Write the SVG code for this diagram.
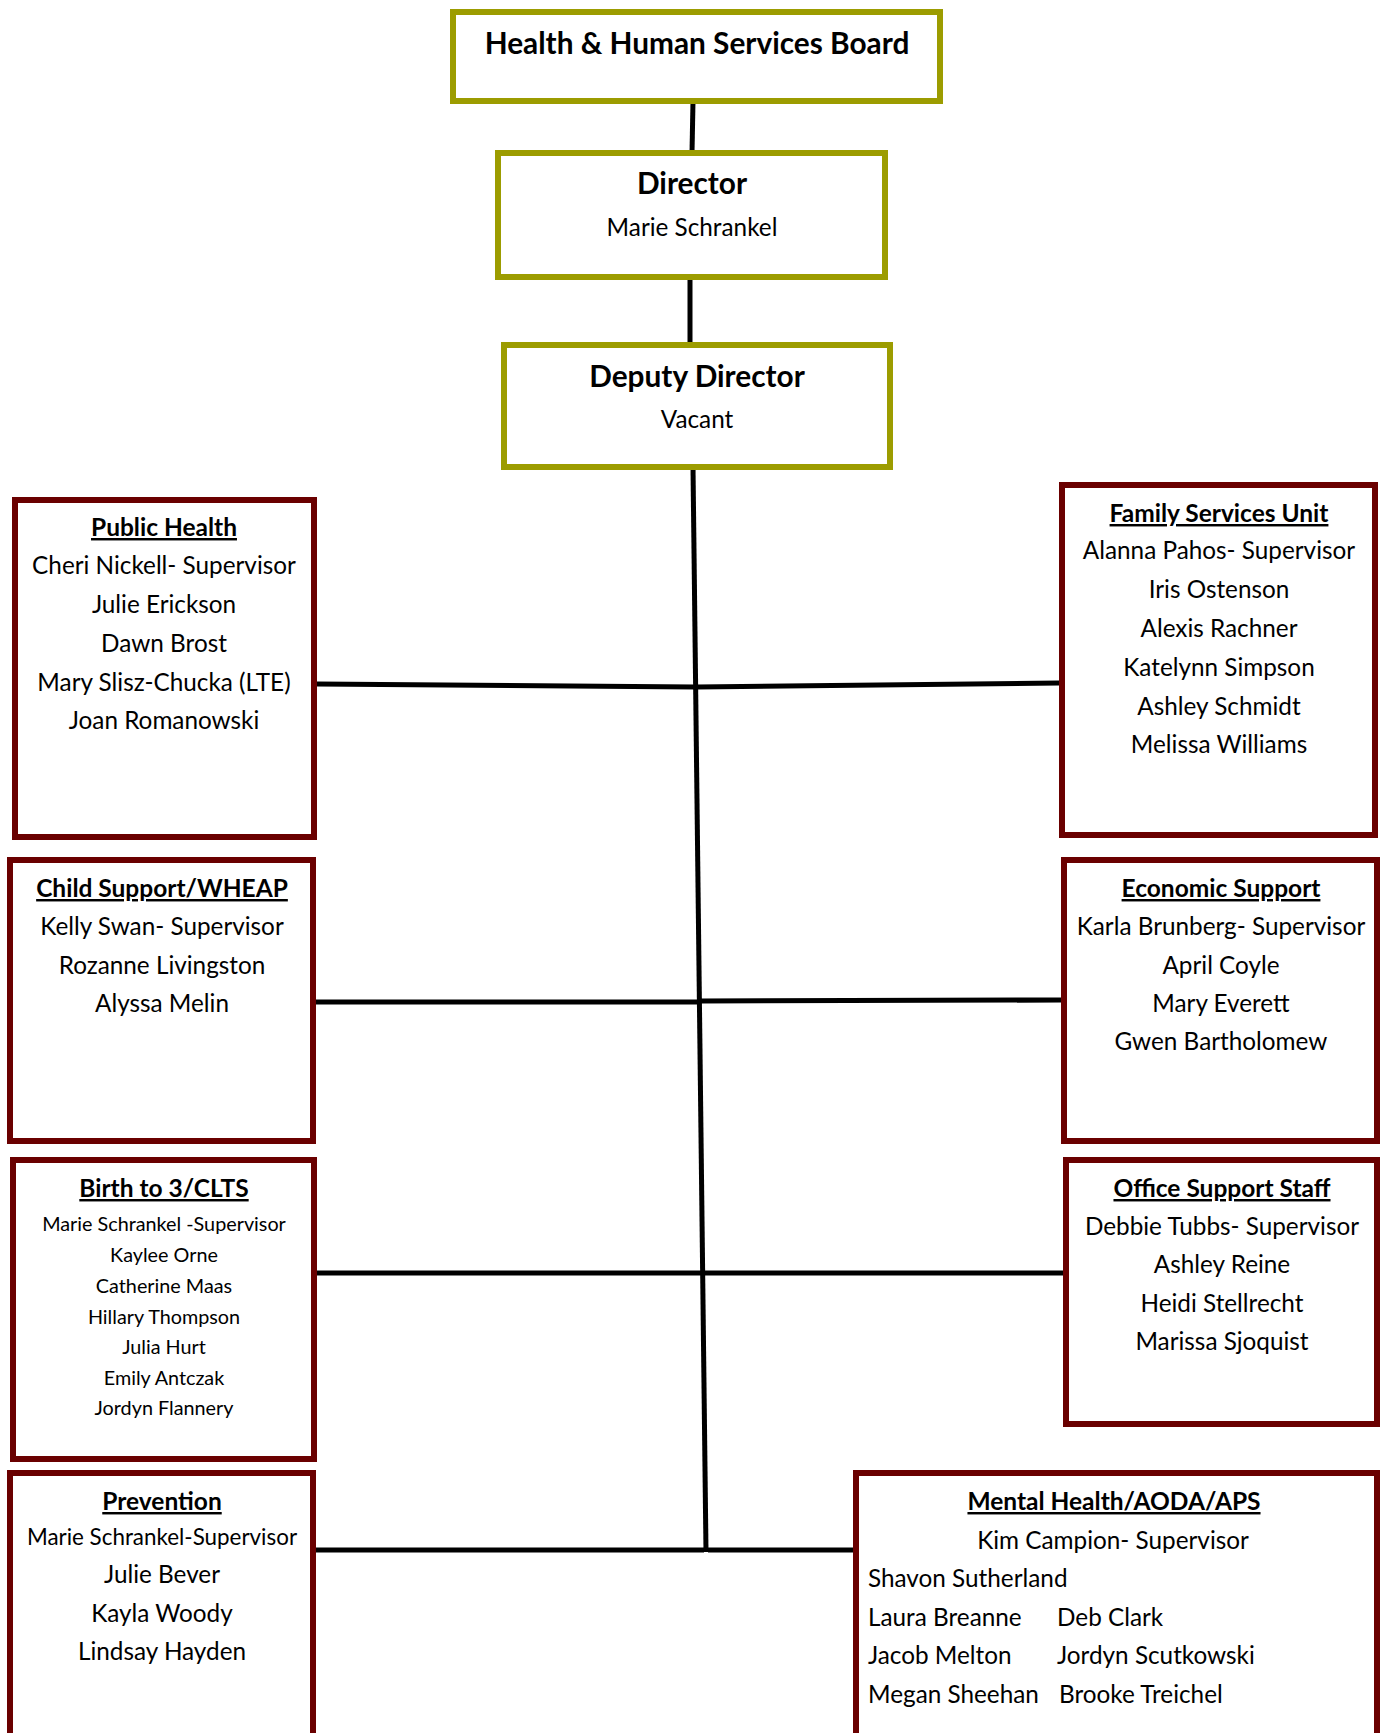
<svg xmlns="http://www.w3.org/2000/svg" width="1380" height="1733" viewBox="0 0 1380 1733">
<style>
text{font-family:Lato,"Open Sans","DejaVu Sans",sans-serif;fill:#000;text-anchor:middle}
.top{fill:#fff;stroke:#9c9c00;stroke-width:6}
.unit{fill:#fff;stroke:#6a0000;stroke-width:6}
.h1{font-size:29.8px;font-weight:bold}
.h2{font-size:24.5px;font-weight:bold;text-decoration:underline}
.b{font-size:24.3px}
.s{font-size:19.8px}
.l{text-anchor:start}
.c line{stroke:#000;stroke-width:5}
</style>
<rect width="1380" height="1733" fill="#fff"/>
<g class="c" id="connectors">
<line x1="693" y1="101" x2="692" y2="153"/>
<line x1="690" y1="277" x2="690" y2="345"/>
<line x1="693" y1="467" x2="706" y2="1552"/>
<line x1="317" y1="684" x2="695" y2="687"/>
<line x1="697" y1="687" x2="1059" y2="683"/>
<line x1="316" y1="1002" x2="699" y2="1002"/>
<line x1="701" y1="1001" x2="1061" y2="1000"/>
<line x1="317" y1="1273" x2="1063" y2="1273"/>
<line x1="316" y1="1550" x2="704" y2="1550"/>
<line x1="708" y1="1550" x2="853" y2="1550"/>
</g>
<g id="board"><rect class="top" x="453" y="12" width="487" height="89"/><text class="h1" x="697" y="54">Health &amp; Human Services Board</text></g>
<g id="director"><rect class="top" x="498" y="153" width="387" height="124"/><text class="h1" x="692" y="194">Director</text><text class="b" x="692" y="236">Marie Schrankel</text></g>
<g id="deputy"><rect class="top" x="504" y="345" width="386" height="122"/><text class="h1" x="697" y="387">Deputy Director</text><text class="b" x="697" y="428">Vacant</text></g>
<g id="public-health"><rect class="unit" x="15" y="500" width="299" height="337"/>
<text class="h2" x="164" y="536">Public Health</text>
<text class="b" x="164" y="574">Cheri Nickell- Supervisor</text>
<text class="b" x="164" y="613">Julie Erickson</text>
<text class="b" x="164" y="652">Dawn Brost</text>
<text class="b" x="164" y="691">Mary Slisz-Chucka (LTE)</text>
<text class="b" x="164" y="729">Joan Romanowski</text></g>
<g id="family-services"><rect class="unit" x="1062" y="485" width="313" height="350"/>
<text class="h2" x="1219" y="522">Family Services Unit</text>
<text class="b" x="1219" y="559">Alanna Pahos- Supervisor</text>
<text class="b" x="1219" y="598">Iris Ostenson</text>
<text class="b" x="1219" y="637">Alexis Rachner</text>
<text class="b" x="1219" y="676">Katelynn Simpson</text>
<text class="b" x="1219" y="715">Ashley Schmidt</text>
<text class="b" x="1219" y="753">Melissa Williams</text></g>
<g id="child-support"><rect class="unit" x="10" y="860" width="303" height="281"/>
<text class="h2" x="162" y="897">Child Support/WHEAP</text>
<text class="b" x="162" y="935">Kelly Swan- Supervisor</text>
<text class="b" x="162" y="974">Rozanne Livingston</text>
<text class="b" x="162" y="1012">Alyssa Melin</text></g>
<g id="economic-support"><rect class="unit" x="1064" y="860" width="313" height="281"/>
<text class="h2" x="1221" y="897">Economic Support</text>
<text class="b" x="1221" y="935">Karla Brunberg- Supervisor</text>
<text class="b" x="1221" y="974">April Coyle</text>
<text class="b" x="1221" y="1012">Mary Everett</text>
<text class="b" x="1221" y="1050">Gwen Bartholomew</text></g>
<g id="birth-to-3"><rect class="unit" x="13" y="1160" width="301" height="299"/>
<text class="h2" x="164" y="1197">Birth to 3/CLTS</text>
<text class="s" x="164" y="1231">Marie Schrankel -Supervisor</text>
<text class="s" x="164" y="1262">Kaylee Orne</text>
<text class="s" x="164" y="1293">Catherine Maas</text>
<text class="s" x="164" y="1324">Hillary Thompson</text>
<text class="s" x="164" y="1354">Julia Hurt</text>
<text class="s" x="164" y="1385">Emily Antczak</text>
<text class="s" x="164" y="1415">Jordyn Flannery</text></g>
<g id="office-support"><rect class="unit" x="1066" y="1160" width="311" height="264"/>
<text class="h2" x="1222" y="1197">Office Support Staff</text>
<text class="b" x="1222" y="1235">Debbie Tubbs- Supervisor</text>
<text class="b" x="1222" y="1273">Ashley Reine</text>
<text class="b" x="1222" y="1312">Heidi Stellrecht</text>
<text class="b" x="1222" y="1350">Marissa Sjoquist</text></g>
<g id="prevention"><rect class="unit" x="10" y="1473" width="303" height="290"/>
<text class="h2" x="162" y="1510">Prevention</text>
<text class="b" x="162" y="1545" style="font-size:22.4px">Marie Schrankel-Supervisor</text>
<text class="b" x="162" y="1583">Julie Bever</text>
<text class="b" x="162" y="1622">Kayla Woody</text>
<text class="b" x="162" y="1660">Lindsay Hayden</text></g>
<g id="mental-health"><rect class="unit" x="856" y="1473" width="521" height="290"/>
<text class="h2" x="1114" y="1510">Mental Health/AODA/APS</text>
<text class="b" x="1113" y="1549">Kim Campion- Supervisor</text>
<text class="b l" x="868" y="1587">Shavon Sutherland</text>
<text class="b l" x="868" y="1626">Laura Breanne</text>
<text class="b l" x="1057" y="1626">Deb Clark</text>
<text class="b l" x="868" y="1664">Jacob Melton</text>
<text class="b l" x="1057" y="1664">Jordyn Scutkowski</text>
<text class="b l" x="868" y="1703">Megan Sheehan</text>
<text class="b l" x="1059" y="1703">Brooke Treichel</text></g>
</svg>
